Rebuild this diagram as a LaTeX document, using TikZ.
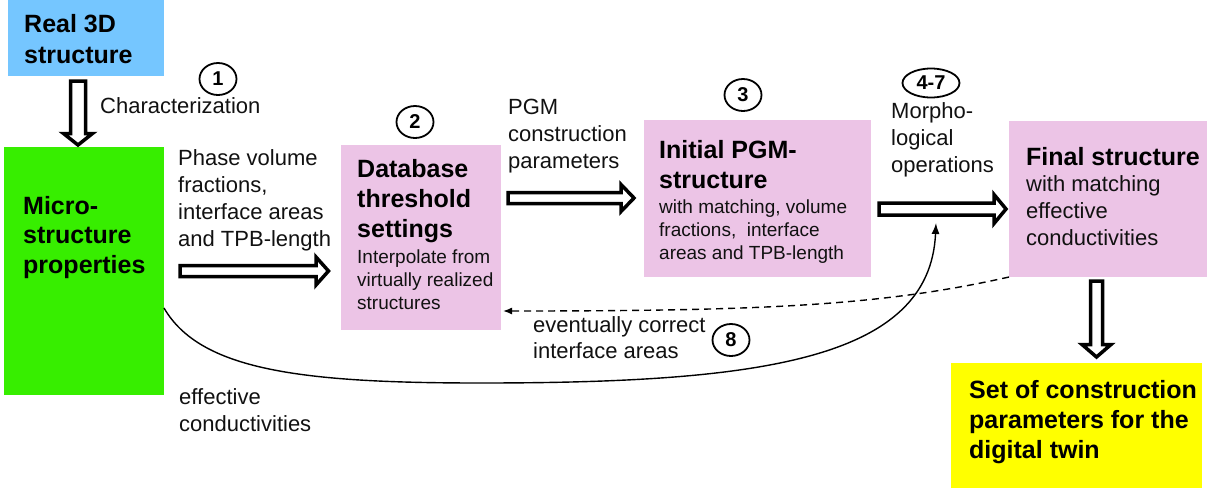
\documentclass[tikz,border=0pt]{standalone}
\usepackage{fontspec}
\setmainfont{Liberation Sans}
\usetikzlibrary{arrows.meta,shapes.geometric,calc}
\definecolor{cblue}{RGB}{117,198,255}
\definecolor{cgreen}{RGB}{55,238,0}
\definecolor{cpink}{RGB}{236,196,230}
\definecolor{cyel}{RGB}{255,255,0}
\definecolor{ink}{RGB}{17,17,17}
\tikzset{
 boxr/.style={rectangle, inner sep=0pt, outer sep=0pt, anchor=north west},
 lbl/.style={anchor=base west, inner sep=0pt, align=left, text=ink, font=\fontsize{22}{26.7}\selectfont},
 ttl/.style={anchor=base west, inner sep=0pt, align=left, text=black, font=\fontsize{25}{30}\selectfont\bfseries},
 sml/.style={anchor=base west, inner sep=0pt, align=left, text=ink, font=\fontsize{19}{23}\selectfont},
 num/.style={ellipse, draw, line width=1.8pt, inner sep=0pt, minimum width=37pt, minimum height=32pt, font=\fontsize{20}{24}\selectfont\bfseries},
 blockarr/.style={draw, line width=3.5pt, fill=white, line join=miter},
 link/.style={line width=1.4pt, -{Latex[length=11pt,width=8pt]}},
}
\newcommand\rarr[5]{\draw[blockarr] let \p1=(#1), \p2=(#2) in (\x1,\y1+#3) -- (\x2-#5,\y1+#3) -- (\x2-#5,\y1+#4) -- (\x2,\y1) -- (\x2-#5,\y1-#4) -- (\x2-#5,\y1-#3) -- (\x1,\y1-#3) -- cycle;}
\newcommand\darr[5]{\draw[blockarr] let \p1=(#1), \p2=(#2) in (\x1-#3,\y1) -- (\x1-#3,\y2+#5) -- (\x1-#4,\y2+#5) -- (\x1,\y2) -- (\x1+#4,\y2+#5) -- (\x1+#3,\y2+#5) -- (\x1+#3,\y1) -- cycle;}
\begin{document}
\begin{tikzpicture}[x=1pt,y=-1pt]
\useasboundingbox (0,0) rectangle (1207,488);
% boxes
\node[boxr, fill=cblue, minimum width=156pt, minimum height=76pt] (real) at (8,0) {};
\node[boxr, fill=cgreen, minimum width=160pt, minimum height=248pt] (micro) at (4,147) {};
\node[boxr, fill=cpink, minimum width=160pt, minimum height=185pt] (db) at (341,145) {};
\node[boxr, fill=cpink, minimum width=227pt, minimum height=157pt] (init) at (644,120) {};
\node[boxr, fill=cpink, minimum width=198pt, minimum height=156pt] (fin) at (1009,121) {};
\node[boxr, fill=cyel, minimum width=251pt, minimum height=125pt] (set) at (951,363) {};
% box texts (anchored at the baseline of the last line)
\node[ttl, font=\fontsize{25}{31}\selectfont\bfseries] (realt) at (24,63) {Real 3D\\structure};
\node[ttl, font=\fontsize{25}{29.5}\selectfont\bfseries] (microt) at (23,273) {Micro-\\structure\\properties};
\node[ttl] (dbt) at (357,237) {Database\\threshold\\settings};
\node[sml] (dbs) at (357,309) {Interpolate from\\virtually realized\\structures};
\node[ttl] (initt) at (659,188) {Initial PGM-\\structure};
\node[sml, font=\fontsize{19}{23}\selectfont] (inits) at (659,259) {with matching, volume\\fractions,\ \ interface\\areas and TPB-length};
\node[ttl] (fint) at (1026,165) {Final structure};
\node[lbl] (fins) at (1026,245) {with matching\\effective\\conductivities};
\node[ttl] (sett) at (969,458) {Set of construction\\parameters for the\\digital twin};
% labels
\node[lbl] (l1) at (100,113) {Characterization};
\node[lbl] (l2) at (178,246) {Phase volume\\fractions,\\interface areas\\and TPB-length};
\node[lbl] (l3) at (508,168) {PGM\\construction\\parameters};
\node[lbl] (l4) at (891,172) {Morpho-\\logical\\operations};
\node[lbl, font=\fontsize{22}{26}\selectfont] (l5) at (533,358) {eventually correct\\interface areas};
\node[lbl] (l6) at (179,431) {effective\\conductivities};
% step numbers
\node[num] (n1) at (218,79) {1};
\node[num] (n2) at (415,122) {2};
\node[num] (n3) at (743,95) {3};
\node[num, minimum width=57pt, minimum height=29pt] (n47) at (931,83) {4-7};
\node[num] (n8) at (731,340) {8};
% block arrows
\coordinate (d1s) at (78,81);   \coordinate (d1e) at (78,145);
\coordinate (r1s) at (180,271); \coordinate (r1e) at (328.5,271);
\coordinate (r2s) at (508,198); \coordinate (r2e) at (634,198);
\coordinate (r3s) at (879,209); \coordinate (r3e) at (1006,209);
\coordinate (d2s) at (1096.5,281); \coordinate (d2e) at (1096.5,357);
\darr{d1s}{d1e}{7.5pt}{14.5pt}{11.5pt}
\rarr{r1s}{r1e}{5.5pt}{14pt}{12.5pt}
\rarr{r2s}{r2e}{5.5pt}{13.5pt}{13pt}
\rarr{r3s}{r3e}{6pt}{14.5pt}{12pt}
\darr{d2s}{d2e}{6pt}{14.5pt}{12.5pt}
% curved links
\coordinate (c0) at (164,308);
\coordinate (c1) at (936,223);
\coordinate (c2) at (503,311);
\draw[link] (c0) .. controls (200,370) and (300,383) .. (480,383)
  .. controls (760,383) and (930,360) .. (c1);
\draw[link, dash pattern=on 7pt off 5pt, -{Latex[length=9pt,width=7pt]}] (fin.south west) .. controls (880,306) and (760,311) .. (c2);
\end{tikzpicture}
\end{document}
